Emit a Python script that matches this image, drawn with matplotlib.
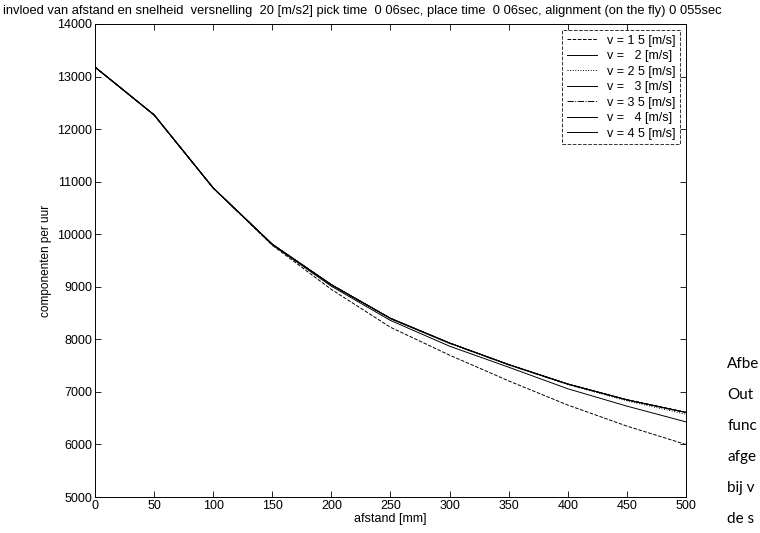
import matplotlib.pyplot as plt
import numpy as np

# afstand [mm]
afstand = [0, 50, 100, 150, 200, 250, 300, 350, 400, 450, 500]

# componenten per uur
v15 = [13180, 12270, 10880, 9790, 8950, 8230, 7700, 7210, 6750, 6350, 6000]
v20 = [13180, 12270, 10880, 9800, 9010, 8360, 7870, 7470, 7060, 6730, 6430]
v25 = [13180, 12270, 10880, 9805, 9030, 8390, 7920, 7510, 7140, 6830, 6575]
v30 = [13180, 12270, 10880, 9810, 9040, 8400, 7930, 7520, 7150, 6850, 6610]
v35 = [13180, 12270, 10880, 9810, 9040, 8400, 7930, 7520, 7150, 6850, 6610]
v40 = [13180, 12270, 10880, 9810, 9040, 8400, 7930, 7520, 7150, 6850, 6610]
v45 = [13180, 12270, 10880, 9810, 9040, 8400, 7930, 7520, 7150, 6850, 6610]

labels = ["v = 1 5 [m/s]", "v =   2 [m/s]", "v = 2 5 [m/s]", "v =   3 [m/s]",
          "v = 3 5 [m/s]", "v =   4 [m/s]", "v = 4 5 [m/s]"]
series = [v15, v20, v25, v30, v35, v40, v45]
styles = ["--", "-", ":", "-", "-.", "-", "-"]

plt.rcParams['font.family'] = ['Liberation Sans', 'DejaVu Sans']

fig = plt.figure(figsize=(7.6, 5.33), dpi=100)
ax = fig.add_axes([0.125, 0.0675, 0.7775, 0.8875])

for y, lab, ls in zip(series, labels, styles):
    ax.plot(afstand, y, color='black', linewidth=0.7, linestyle=ls, label=lab)

ax.set_xlim(0, 500)
ax.set_ylim(5000, 14000)
ax.set_xticks(np.arange(0, 501, 50))
ax.set_yticks(np.arange(5000, 14001, 1000))
ax.tick_params(direction='in', labelsize=9, length=4, width=0.6, pad=2,
               top=True, right=True)
for s in ax.spines.values():
    s.set_linewidth(0.7)

ax.set_xlabel("afstand [mm]", fontsize=9, labelpad=1)
ax.set_ylabel("componenten per uur", fontsize=8.5, labelpad=4)

leg = ax.legend(loc='upper right', fontsize=9, frameon=True, fancybox=False,
                handlelength=2.4, handletextpad=0.8, borderpad=0.35,
                labelspacing=0.28, borderaxespad=0.5)
leg.get_frame().set_edgecolor('black')
leg.get_frame().set_linewidth(0.7)
leg.get_frame().set_linestyle('--')

fig.text(0.004, 0.99,
         "invloed van afstand en snelheid  versnelling  20 [m/s2] pick time  0 06sec, "
         "place time  0 06sec, alignment (on the fly) 0 055sec",
         fontsize=9.3, ha='left', va='top')

side = ["Afbe", "Out", "func", "afge", "bij v", "de s"]
for i, t in enumerate(side):
    fig.text(0.957, 1 - (364 + 31 * i) / 533, t, fontsize=11, ha='left', va='center',
             family=['Lato', 'DejaVu Sans'])

fig.savefig("out.png", dpi=100)
